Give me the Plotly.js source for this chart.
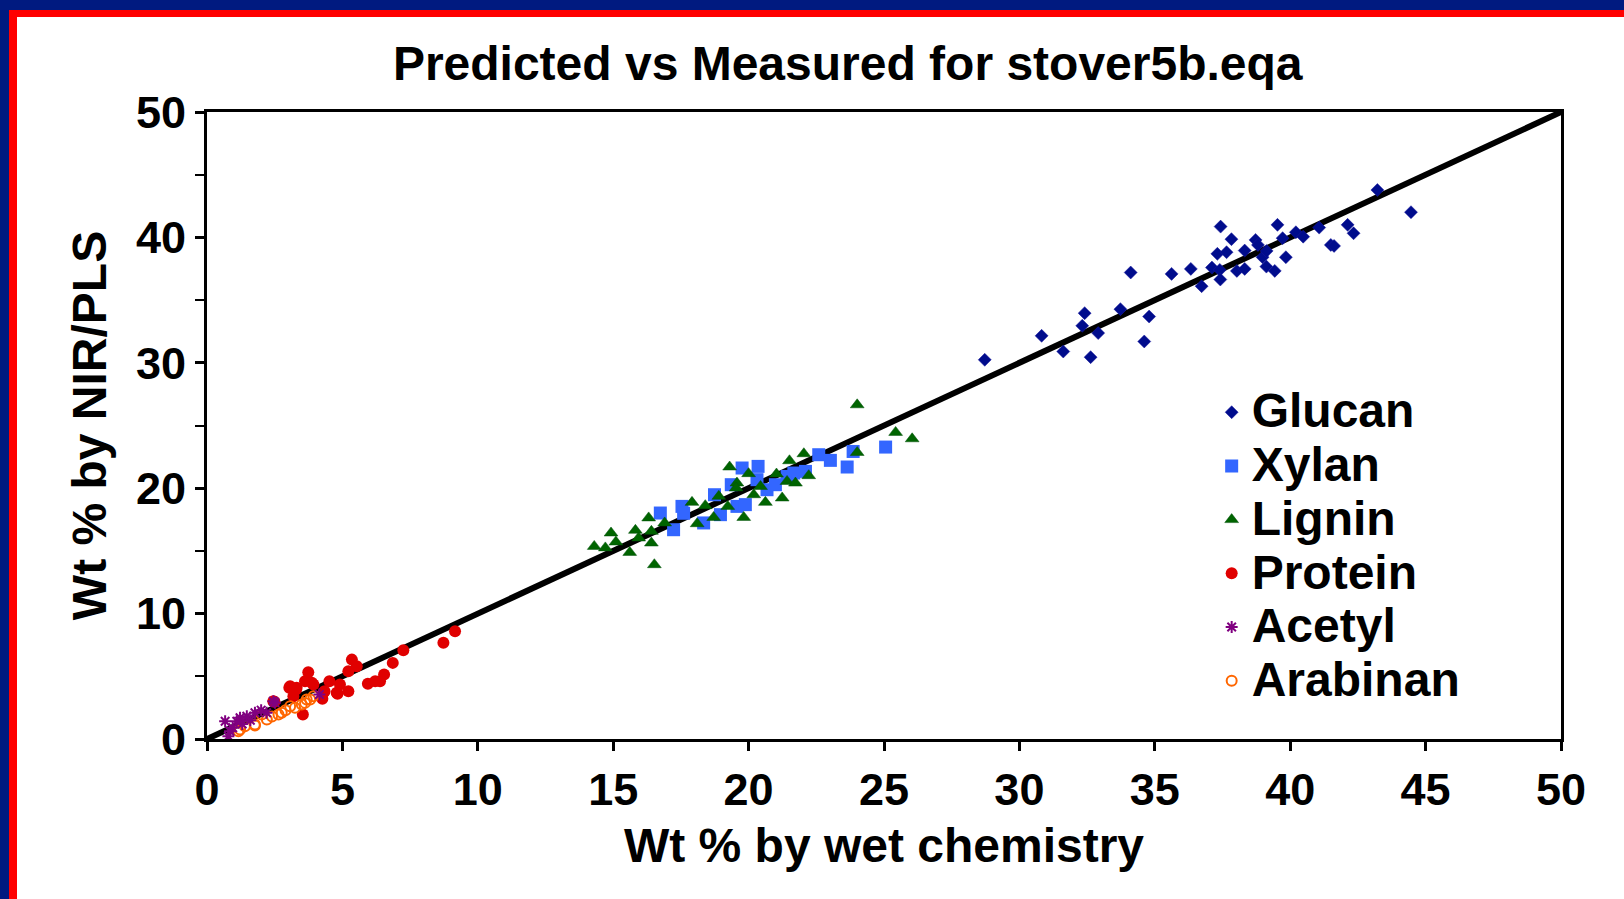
<!DOCTYPE html>
<html>
<head>
<meta charset="utf-8">
<script src="https://cdn.plot.ly/plotly-3.0.1.min.js"></script>
<style>
  html, body { margin:0; padding:0; background:#fff; }
  #wrap { position:relative; width:1624px; height:899px; overflow:hidden; }
  #chart { position:absolute; left:0; top:0; width:1624px; height:899px; }
  .band { position:absolute; }
</style>
</head>
<body>
<div id="wrap">
  <div id="chart"></div>
  <div class="band" style="left:0;top:0;width:1624px;height:10px;background:#001A80"></div>
  <div class="band" style="left:0;top:0;width:9px;height:899px;background:#001A80"></div>
  <div class="band" style="left:9px;top:10px;width:1615px;height:7px;background:#FF0000"></div>
  <div class="band" style="left:9px;top:10px;width:8px;height:889px;background:#FF0000"></div>
</div>
<script>
// ---- data (Wt % by wet chemistry vs Wt % by NIR/PLS) ----
const glucanX = [28.72,30.82,31.62,32.41,32.32,32.91,32.63,33.73,34.11,34.79,34.61,35.62,36.33,36.73,37.11,37.40,37.42,37.43,37.31,37.65,37.83,38.03,38.32,38.32,38.72,38.81,38.98,39.13,39.12,39.43,39.53,39.72,39.84,40.21,40.48,41.07,41.50,41.62,42.12,42.34,43.22,44.46];
const glucanY = [30.24,32.15,30.90,33.96,32.95,32.37,30.45,34.28,37.20,33.69,31.70,37.09,37.49,36.11,37.59,37.41,36.64,40.86,38.69,38.82,39.86,37.33,37.49,38.95,39.80,39.40,38.42,38.92,37.67,37.33,41.00,39.94,38.42,40.41,40.06,40.78,39.40,39.32,41.00,40.33,43.78,42.01];

const xylanX = [16.74,17.23,17.54,17.60,18.34,18.74,18.96,19.36,19.76,20.35,19.57,19.88,20.31,20.68,20.99,21.42,21.67,22.10,22.59,23.02,23.64,23.86,25.06];
const xylanY = [18.02,16.69,18.55,18.00,17.23,19.48,17.89,20.28,21.61,21.74,18.55,18.69,20.68,19.88,20.28,20.94,21.21,21.34,22.67,22.22,21.69,22.93,23.28];

const ligninX = [14.30,14.71,14.92,15.10,15.61,15.82,15.94,16.31,16.41,16.41,16.52,16.90,17.91,18.10,18.40,18.71,18.90,19.23,19.30,19.57,19.54,19.82,20.00,20.19,20.44,20.62,21.03,21.24,21.42,21.51,21.73,22.04,22.22,24.01,24.01,25.43,26.04];
const ligninY = [15.36,15.24,16.43,15.71,14.88,16.64,16.03,17.63,16.56,15.63,13.90,17.23,18.87,17.17,18.61,17.67,19.35,18.55,21.69,20.41,20.02,17.67,21.16,19.48,20.14,18.87,21.13,19.22,20.54,22.19,20.41,22.75,21.00,26.65,22.85,24.45,23.94];

const proteinX = [9.16,8.73,7.25,6.86,6.54,6.39,6.21,5.94,5.35,5.53,5.22,5.22,4.91,4.82,4.52,4.26,4.34,3.74,3.62,3.93,3.04,3.31,3.54,3.07,3.19,2.45,4.30,2.49,4.79,3.87,3.29];
const proteinY = [8.59,7.67,7.08,6.07,5.14,4.61,4.61,4.40,6.33,5.80,5.40,3.81,4.34,3.60,4.61,3.20,3.81,5.32,4.61,4.34,4.08,4.08,1.95,4.21,3.41,3.01,3.68,2.97,3.68,4.48,3.94];

const acetylX = [0.79,0.67,0.85,1.10,1.22,1.47,1.77,2.00,2.45,2.51,4.15,1.60,2.20,0.95,1.30];
const acetylY = [0.22,1.42,0.62,1.42,1.69,1.82,2.09,2.30,3.01,2.90,3.55,1.50,2.10,0.90,1.20];

const arabinanX = [1.16,1.22,1.40,1.77,1.77,2.02,2.21,2.40,2.64,2.76,3.07,3.25,3.50,3.62,3.68,3.81,3.93,2.90];
const arabinanY = [0.62,0.76,1.02,1.16,1.08,1.95,1.55,1.80,1.95,2.09,2.61,2.49,2.75,2.88,3.15,3.15,3.41,2.30];

const lineX = [0, 50];
const lineY = [0, 50];

const xTicks = [0,5,10,15,20,25,30,35,40,45,50];
const yTicks = [0,10,20,30,40,50];

const FONT = 'Liberation Sans, Arial, Helvetica, sans-serif';
const big = s => '<span style="font-size:48px">' + s + '</span>';

const traces = [
  {x: lineX, y: lineY, mode:'lines', line:{color:'#000', width:6}, showlegend:false, hoverinfo:'skip'},
  {x: proteinX, y: proteinY, name:big('Protein'), mode:'markers', legendrank:4,
   marker:{symbol:'circle', size:12, color:'#E00000', line:{width:0}}},
  {x: arabinanX, y: arabinanY, name:big('Arabinan'), mode:'markers', legendrank:6,
   marker:{symbol:'circle-open', size:10, color:'#FF6600', line:{color:'#FF6600', width:2}}},
  {x: acetylX, y: acetylY, name:big('Acetyl'), mode:'markers', legendrank:5,
   marker:{symbol:'asterisk-open', size:10, color:'#800080', line:{color:'#800080', width:2}}},
  {x: xylanX, y: xylanY, name:big('Xylan'), mode:'markers', legendrank:2,
   marker:{symbol:'square', size:13, color:'#3366FF', line:{width:0}}},
  {x: ligninX, y: ligninY, name:big('Lignin'), mode:'markers', legendrank:3,
   marker:{symbol:'triangle-up', size:12, color:'#006400', line:{color:'#00500a', width:0.5}}},
  {x: glucanX, y: glucanY, name:big('Glucan'), mode:'markers', legendrank:1,
   marker:{symbol:'diamond', size:10, color:'#000C8C', line:{color:'#1a1aa0', width:0.5}}}
];

const layout = {
  width:1624, height:899,
  paper_bgcolor:'#fff', plot_bgcolor:'#fff',
  margin:{l:207, r:63, t:112, b:160, pad:0},
  font:{family:FONT, color:'#000', size:40, weight:'bold'},
  title:{text:'Predicted vs Measured for stover5b.eqa', x:0.522, xanchor:'center', y:0.93, yanchor:'middle',
         font:{family:FONT, size:48, color:'#000', weight:'bold'}},
  xaxis:{range:[0,50], tickvals:xTicks, ticktext:xTicks.map(String),
         showgrid:false, zeroline:false, showline:true, linecolor:'#000', linewidth:3, mirror:true,
         ticks:'outside', ticklen:9, tickwidth:3, tickcolor:'#000',
         tickfont:{family:FONT, size:45, color:'#000', weight:'bold'},
         title:{text:'Wt % by wet chemistry', standoff:15, font:{family:FONT, size:48, color:'#000', weight:'bold'}}},
  yaxis:{range:[0,50], tickvals:yTicks, ticktext:yTicks.map(String),
         showgrid:false, zeroline:false, showline:true, linecolor:'#000', linewidth:3, mirror:true,
         ticks:'outside', ticklen:9, tickwidth:3, tickcolor:'#000',
         minor:{dtick:5, ticks:'outside', ticklen:9, tickwidth:2, tickcolor:'#000', showgrid:false},
         tickfont:{family:FONT, size:45, color:'#000', weight:'bold'},
         title:{text:'Wt % by NIR/PLS', standoff:15, font:{family:FONT, size:48, color:'#000', weight:'bold'}}},
  legend:{x:0.742, xanchor:'left', y:0.572, yanchor:'top', bgcolor:'rgba(0,0,0,0)', borderwidth:0,
          font:{family:FONT, size:39, color:'#000', weight:'bold'}, itemsizing:'trace', tracegroupgap:0, traceorder:'normal'},
  showlegend:true
};

Plotly.newPlot('chart', traces, layout, {displayModeBar:false, staticPlot:true});
</script>
</body>
</html>
